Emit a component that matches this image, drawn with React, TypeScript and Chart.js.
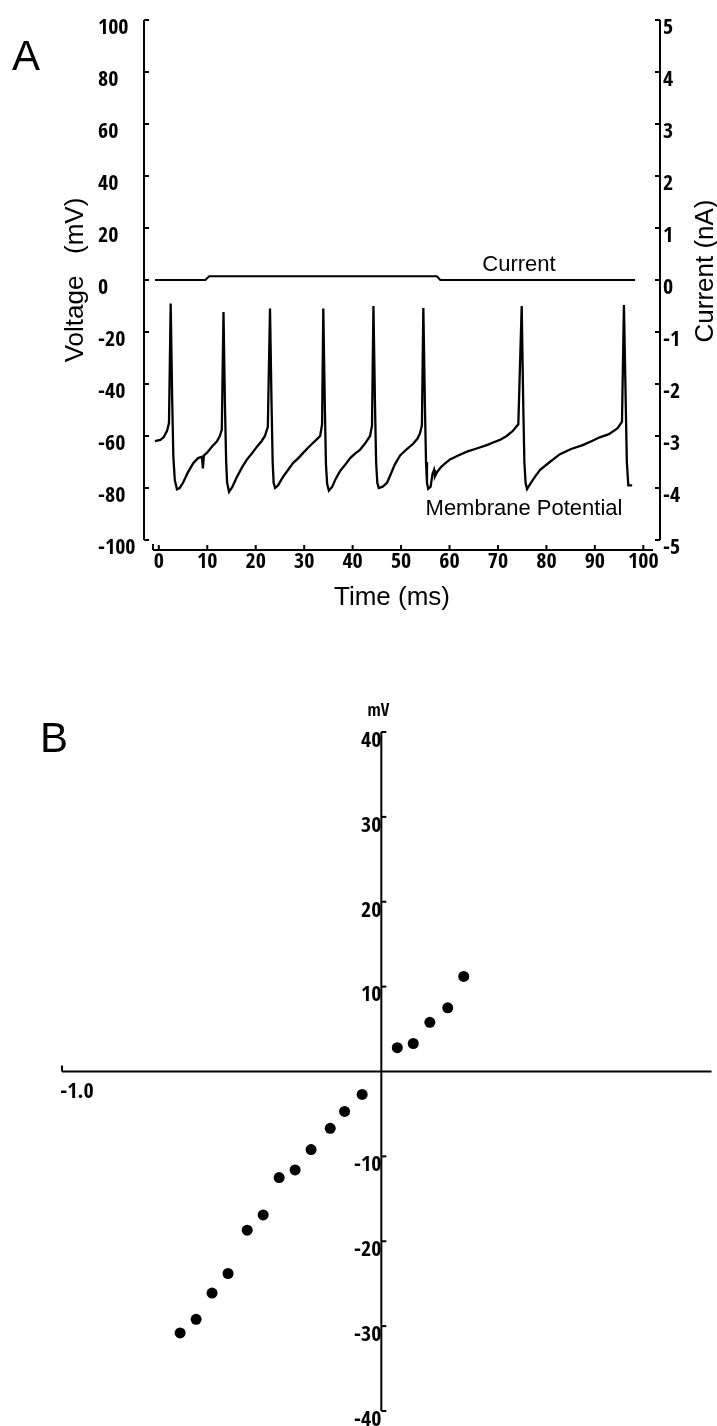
import React, { useEffect, useRef } from "react";
import { Chart, registerables } from "chart.js";

Chart.register(...registerables);

// ---------- Panel A data ----------
const timeMs = [
  -0.8, 0.3, 1.0, 1.7, 2.1, 2.45, 2.75, 3.0, 3.3, 3.75, 4.3, 5.0, 6.0, 7.1, 8.1, 8.9, 9.1, 9.3, 9.9, 11.0,
  12.0, 12.6, 13.0, 13.35, 13.65, 13.9, 14.1, 14.5, 15.2, 16.1, 17.2, 18.2, 19.3, 20.3, 21.2, 21.9, 22.5,
  22.95, 23.25, 23.5, 23.7, 24.0, 24.6, 25.6, 26.7, 27.7, 28.8, 29.8, 30.8, 31.8, 32.6, 33.3, 33.7, 33.95,
  34.25, 34.5, 34.75, 35.1, 35.8, 36.5, 37.4, 38.5, 39.5, 40.5, 41.5, 42.6, 43.6, 44.0, 44.3, 44.6, 44.85,
  45.1, 45.4, 46.2, 47.1, 47.8, 48.7, 49.8, 51.2, 52.5, 53.4, 53.9, 54.3, 54.6, 54.9, 55.15, 55.35, 55.6,
  56.1, 56.5, 56.8, 57.0, 57.4, 58.2, 59.1, 60.1, 61.8, 63.6, 65.6, 67.7, 69.0, 70.4, 71.8, 73.1, 74.2,
  74.9, 75.2, 75.45, 75.7, 76.0, 76.8, 77.7, 78.7, 80.7, 82.8, 85.1, 87.5, 89.3, 91.0, 92.9, 94.7, 95.6,
  96.0, 96.3, 96.6, 96.9, 97.7,
];
const membraneMv = [
  -62, -61.5, -60.5, -58, -55, -9, -45, -68, -77, -80.5, -80, -78, -74, -70.5, -68.5, -68, -72.5, -67.5, -66.5, -64,
  -62, -60, -57.5, -12.3, -48, -70, -78, -81.5, -79.5, -75.8, -72, -69, -66.5, -64, -62, -60, -56.5,
  -11, -46, -70, -78, -80, -79, -75.8, -73, -70.4, -68.5, -66.5, -64.5, -62.7, -61.3, -60, -55.5, -11,
  -47, -71, -78.5, -81, -79.5, -76.5, -73.5, -71, -68.5, -66.8, -65.4, -62.8, -60, -56, -10, -46, -70,
  -78, -80, -79.5, -78, -75, -71, -67.5, -65, -63, -61, -59, -56, -10.8, -46, -70, -78, -80.3,
  -79.5, -74.5, -73, -75.5, -74, -72, -70.5, -69, -67.5, -66, -64.8, -63.5, -62.5, -61.5, -60, -58, -55.5,
  -10, -46, -70, -78, -80.4, -78, -75.5, -73, -70, -67, -65, -63.5, -62, -60.5, -59.3, -57, -54.5,
  -9.6, -40, -70, -79, -79,
];
const currentTimeMs = [-0.8, 9.6, 10.4, 57.4, 58.1, 98.3];
const currentNa = [0, 0, 0.07, 0.07, 0, 0];
const timeTicks = [0, 10, 20, 30, 40, 50, 60, 70, 80, 90, 100];
const voltageTicks = [100, 80, 60, 40, 20, 0, -20, -40, -60, -80, -100];
const currentTicks = [5, 4, 3, 2, 1, 0, -1, -2, -3, -4, -5];

// ---------- Panel B data ----------
const ivCurrent = [
  -0.63, -0.58, -0.53, -0.48, -0.42, -0.37, -0.32, -0.27, -0.22, -0.16, -0.115, -0.06,
  0.05, 0.1, 0.152, 0.208, 0.258,
];
const ivVoltage = [
  -30.8, -29.2, -26.1, -23.8, -18.7, -16.9, -12.5, -11.6, -9.2, -6.7, -4.7, -2.7,
  2.8, 3.3, 5.8, 7.5, 11.2,
];
const ivVoltTicks = [40, 30, 20, 10, -10, -20, -30, -40];
const ivCurrentTicks = [-1.0];

const TICK_FAMILY = "'Open Sans Condensed', 'Roboto Condensed', 'DejaVu Sans Condensed', sans-serif";
const TEXT_FAMILY = "'Liberation Sans', Arial, Helvetica, sans-serif";
const tickFont = { family: TICK_FAMILY, size: 22, weight: "bold" as const, lineHeight: 1 };

function line(ctx: CanvasRenderingContext2D, x1: number, y1: number, x2: number, y2: number) {
  ctx.beginPath();
  ctx.moveTo(x1, y1);
  ctx.lineTo(x2, y2);
  ctx.stroke();
}

const panelAPlugin = {
  id: "panelA",
  afterDraw(chart: any) {
    const { ctx, chartArea: ca, scales } = chart;
    const x = scales.x;
    const y = scales.y;
    const y2 = scales.y2;
    const lx = ca.left - 9;
    const rx = ca.right + 7;
    const by = ca.bottom + 10;
    ctx.save();
    ctx.strokeStyle = "#000";
    ctx.lineWidth = 2;
    line(ctx, lx, y.getPixelForValue(100), lx, y.getPixelForValue(-100));
    voltageTicks.forEach((v) => {
      const p = y.getPixelForValue(v);
      line(ctx, lx, p, lx + 5, p);
    });
    line(ctx, rx, y2.getPixelForValue(5), rx, y2.getPixelForValue(-5));
    currentTicks.forEach((v) => {
      const p = y2.getPixelForValue(v);
      line(ctx, rx, p, rx - 5, p);
    });
    line(ctx, ca.left, by, ca.right, by);
    line(ctx, ca.left, by, ca.left, by - 6);
    timeTicks.forEach((t) => {
      const p = x.getPixelForValue(t);
      line(ctx, p, by, p, by - 5);
    });

    ctx.fillStyle = "#000";
    ctx.textAlign = "center";
    ctx.textBaseline = "middle";
    ctx.font = `26px ${TEXT_FAMILY}`;
    ctx.save();
    ctx.translate(76, 290);
    ctx.rotate(-Math.PI / 2);
    ctx.fillText("Voltage   (mV)", 0, 0);
    ctx.restore();
    ctx.save();
    ctx.translate(706, 281);
    ctx.rotate(-Math.PI / 2);
    ctx.fillText("Current (nA)", 0, 0);
    ctx.restore();
    ctx.fillText("Time (ms)", 392, 608);
    ctx.font = `22px ${TEXT_FAMILY}`;
    ctx.fillText("Current", 519, 275);
    ctx.fillText("Membrane Potential", 524, 519);
    ctx.font = `42px ${TEXT_FAMILY}`;
    ctx.textAlign = "left";
    ctx.textBaseline = "alphabetic";
    ctx.fillText("A", 12, 80);
    ctx.restore();
  },
};

const panelBPlugin = {
  id: "panelB",
  afterDraw(chart: any) {
    const { ctx, chartArea: ca, scales } = chart;
    const x = scales.x;
    const y = scales.y;
    const ax = x.getPixelForValue(0);
    const ay = y.getPixelForValue(0);
    ctx.save();
    ctx.strokeStyle = "#000";
    ctx.lineWidth = 2;
    line(ctx, ax, y.getPixelForValue(40), ax, y.getPixelForValue(-40));
    ivVoltTicks.forEach((v) => {
      const p = y.getPixelForValue(v);
      line(ctx, ax, p, ax + 5, p);
    });
    line(ctx, x.getPixelForValue(-1), ay, ca.right, ay);
    ivCurrentTicks.forEach((v) => {
      const p = x.getPixelForValue(v);
      line(ctx, p, ay, p, ay - 6);
    });
    ctx.fillStyle = "#000";
    ctx.font = `bold 17px ${TICK_FAMILY}`;
    ctx.textAlign = "center";
    ctx.textBaseline = "middle";
    ctx.fillText("mV", ax - 3, y.getPixelForValue(40) - 20);
    ctx.font = `42px ${TEXT_FAMILY}`;
    ctx.textAlign = "left";
    ctx.textBaseline = "alphabetic";
    ctx.fillText("B", 40, 152);
    ctx.restore();
  },
};

export default function App() {
  const refA = useRef<HTMLCanvasElement>(null);
  const refB = useRef<HTMLCanvasElement>(null);

  useEffect(() => {
    document.documentElement.style.overflow = "hidden";
    document.body.style.overflow = "hidden";
    const chartA = new Chart(refA.current as HTMLCanvasElement, {
      type: "scatter",
      data: {
        datasets: [
          {
            label: "Membrane Potential",
            data: timeMs.map((t, i) => ({ x: t, y: membraneMv[i] })),
            showLine: true,
            borderColor: "#000",
            borderWidth: 2.3,
            pointRadius: 0,
            tension: 0,
            yAxisID: "y",
          },
          {
            label: "Current",
            data: currentTimeMs.map((t, i) => ({ x: t, y: currentNa[i] })),
            showLine: true,
            borderColor: "#000",
            borderWidth: 2,
            pointRadius: 0,
            tension: 0,
            yAxisID: "y2",
          },
        ],
      },
      options: {
        animation: false,
        responsive: false,
        maintainAspectRatio: false,
        layout: { padding: { left: 98, top: 30, right: 0, bottom: 0 } },
        plugins: { legend: { display: false }, tooltip: { enabled: false } },
        scales: {
          x: {
            type: "linear",
            position: "bottom",
            min: -1.2,
            max: 102,
            afterBuildTicks: (s: any) => {
              s.ticks = timeTicks.map((v) => ({ value: v }));
            },
            afterFit: (s: any) => {
              s.height = 80;
            },
            grid: { display: false, drawTicks: false },
            border: { display: false },
            ticks: { font: tickFont, color: "#000", padding: 11, maxRotation: 0, autoSkip: false },
          },
          y: {
            type: "linear",
            position: "left",
            min: -100,
            max: 100,
            afterBuildTicks: (s: any) => {
              s.ticks = voltageTicks.map((v) => ({ value: v }));
            },
            afterFit: (s: any) => {
              s.width = 55;
            },
            grid: { display: false, drawTicks: false },
            border: { display: false },
            ticks: { font: tickFont, color: "#000", padding: 0, crossAlign: "far", labelOffset: 8, autoSkip: false },
          },
          y2: {
            type: "linear",
            position: "right",
            min: -5,
            max: 5,
            afterBuildTicks: (s: any) => {
              s.ticks = currentTicks.map((v) => ({ value: v }));
            },
            afterFit: (s: any) => {
              s.width = 64;
            },
            grid: { display: false, drawTicks: false },
            border: { display: false },
            ticks: { font: tickFont, color: "#000", padding: 10, labelOffset: 8, autoSkip: false },
          },
        },
      },
      plugins: [panelAPlugin],
    } as any);

    const chartB = new Chart(refB.current as HTMLCanvasElement, {
      type: "scatter",
      data: {
        datasets: [
          {
            label: "I-V",
            data: ivCurrent.map((c, i) => ({ x: c, y: ivVoltage[i] })),
            pointRadius: 5.5,
            pointBackgroundColor: "#000",
            pointBorderColor: "#000",
            pointBorderWidth: 0,
            showLine: false,
          },
        ],
      },
      options: {
        animation: false,
        responsive: false,
        maintainAspectRatio: false,
        layout: { padding: { left: 62, right: 0, top: 132, bottom: 29 } },
        plugins: { legend: { display: false }, tooltip: { enabled: false } },
        scales: {
          x: {
            type: "linear",
            position: { y: 0 },
            min: -1,
            max: 1.034,
            afterBuildTicks: (s: any) => {
              s.ticks = ivCurrentTicks.map((v) => ({ value: v }));
            },
            grid: { display: false, drawTicks: false },
            border: { display: false },
            ticks: {
              font: tickFont,
              color: "#000",
              padding: 10,
              labelOffset: 15,
              autoSkip: false,
              maxRotation: 0,
              callback: (v: any) => Number(v).toFixed(1),
            },
          },
          y: {
            type: "linear",
            position: { x: 0 },
            min: -40,
            max: 40,
            afterBuildTicks: (s: any) => {
              s.ticks = ivVoltTicks.map((v) => ({ value: v }));
            },
            grid: { display: false, drawTicks: false },
            border: { display: false },
            ticks: { font: tickFont, color: "#000", padding: 7, labelOffset: 9, autoSkip: false },
          },
        },
      },
      plugins: [panelBPlugin],
    } as any);

    return () => {
      chartA.destroy();
      chartB.destroy();
    };
  }, []);

  return (
    <div style={{ position: "absolute", left: 0, top: 0, width: 717, height: 1426, background: "#fff" }}>
      <canvas
        ref={refA}
        width={717}
        height={630}
        style={{ position: "absolute", left: 0, top: -10, width: 717, height: 630 }}
      />
      <canvas
        ref={refB}
        width={717}
        height={840}
        style={{ position: "absolute", left: 0, top: 600, width: 717, height: 840 }}
      />
    </div>
  );
}
